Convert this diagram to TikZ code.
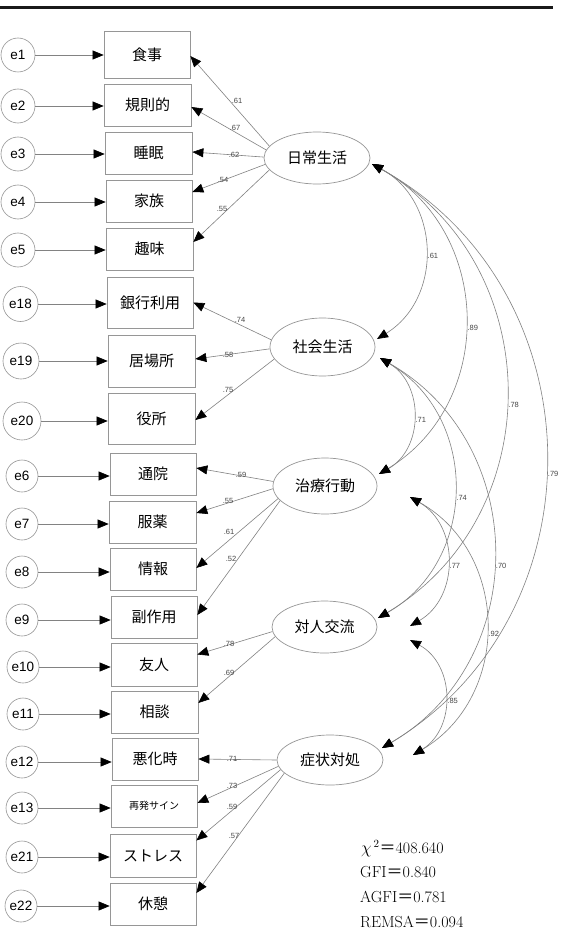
\documentclass[tikz,border=0pt]{standalone}
\usepackage{fontspec}
\newfontfamily\cjkfont{Noto Sans CJK JP}
\newfontfamily\labelfont{Liberation Sans}
\usetikzlibrary{arrows.meta,shapes.geometric}
\definecolor{linegray}{RGB}{130,130,130}
\definecolor{shapegray}{RGB}{150,150,150}
\definecolor{coefgray}{RGB}{70,70,70}
\definecolor{rulecolor}{RGB}{25,25,25}
\newcommand{\zeq}{{\cjkfont ＝}}

\begin{document}
\begin{tikzpicture}[x=1pt, y=-1pt,
  >={Triangle[length=11pt,width=9pt,color=black]},
  errnode/.style={circle, draw=shapegray, line width=0.6pt, minimum size=#1, inner sep=0pt,
    font=\labelfont\fontsize{13.5pt}{14pt}\selectfont},
  errnode/.default=32pt,
  obsnode/.style={rectangle, draw=shapegray, line width=0.7pt, minimum width=86pt,
    minimum height=42pt, inner sep=0pt, font=\cjkfont\fontsize{15pt}{16pt}\selectfont},
  latnode/.style={ellipse, draw=shapegray, line width=0.7pt, minimum width=106pt,
    minimum height=52pt, inner sep=0pt, font=\cjkfont\fontsize{15pt}{16pt}\selectfont},
  loadline/.style={draw=linegray, line width=0.6pt, ->},
  covline/.style={draw=linegray, line width=0.6pt, <->},
  coef/.style={font=\labelfont\fontsize{7.5pt}{8pt}\selectfont, text=coefgray, inner sep=0.5pt},
  covlab/.style={coef, pos=0.53, anchor=west, xshift=2pt},
  stat/.style={anchor=base west, inner sep=0pt, font=\fontsize{16pt}{18pt}\selectfont}
]
\fill[white] (0,0) rectangle (564,952);
\useasboundingbox (0,0) rectangle (564,952);

% heading rule
\draw[rulecolor, line width=2.5pt] (0,7.5) -- (553,7.5);

% observed variables
\node[obsnode, minimum height=47pt] (shokuji) at (147,54.5) {食事};
\node[obsnode, minimum width=87pt] (kisoku) at (147.5,105) {規則的};
\node[obsnode, minimum width=87pt] (suimin) at (148.5,153) {睡眠};
\node[obsnode] (kazoku) at (149,201) {家族};
\node[obsnode, minimum width=87pt] (shumi) at (149.5,249) {趣味};
\node[obsnode, minimum height=51pt] (ginko) at (150,302.5) {銀行利用};
\node[obsnode, minimum width=87pt, minimum height=52pt] (ibasho) at (151.5,361) {居場所};
\node[obsnode, minimum width=87pt, minimum height=51pt] (yakusho) at (151.5,418.5) {役所};
\node[obsnode] (tsuin) at (153,474) {通院};
\node[obsnode, minimum width=87pt] (fukuyaku) at (152.5,522) {服薬};
\node[obsnode] (joho) at (153,569) {情報};
\node[obsnode] (fukusayo) at (154,617) {副作用};
\node[obsnode, minimum height=43pt] (yujin) at (154,664.5) {友人};
\node[obsnode, minimum width=87pt] (sodan) at (154.5,712) {相談};
\node[obsnode] (akka) at (155,759) {悪化時};
\node[obsnode, font=\cjkfont\fontsize{10pt}{11pt}\selectfont] (saihatsu) at (154,806) {再発サイン};
\node[obsnode, minimum height=43pt] (stress) at (153,855.5) {ストレス};
\node[obsnode] (kyukei) at (153,904) {休憩};

% error terms
\node[errnode=34pt] (e1) at (18,55) {e1};
\node[errnode=34pt] (e2) at (18,106) {e2};
\node[errnode=34pt] (e3) at (18,154) {e3};
\node[errnode=34pt] (e4) at (18,202) {e4};
\node[errnode=34pt] (e5) at (18,250) {e5};
\node[errnode=35pt] (e18) at (20.5,304) {e18};
\node[errnode=36pt] (e19) at (21,361) {e19};
\node[errnode=38pt] (e20) at (22,421) {e20};
\node[errnode] (e6) at (22,476) {e6};
\node[errnode] (e7) at (22,524) {e7};
\node[errnode] (e8) at (22,572) {e8};
\node[errnode] (e9) at (22,620) {e9};
\node[errnode] (e10) at (23,667) {e10};
\node[errnode] (e11) at (23,714) {e11};
\node[errnode] (e12) at (22,762) {e12};
\node[errnode] (e13) at (22,808) {e13};
\node[errnode] (e21) at (22,857) {e21};
\node[errnode] (e22) at (21,906) {e22};

\foreach \e/\o in {e1/shokuji, e2/kisoku, e3/suimin, e4/kazoku, e5/shumi,
  e18/ginko, e19/ibasho, e20/yakusho, e6/tsuin, e7/fukuyaku, e8/joho, e9/fukusayo,
  e10/yujin, e11/sodan, e12/akka, e13/saihatsu, e21/stress, e22/kyukei}
  \draw[loadline] (\e) -- (\e -| \o.west);

% latent factors
\node[latnode] (nichijo) at (317,158) {日常生活};
\node[latnode, minimum width=105pt, minimum height=58pt] (shakai) at (322.5,347) {社会生活};
\node[latnode, minimum width=104pt, minimum height=56pt] (chiryo) at (325,486) {治療行動};
\node[latnode, minimum width=105pt] (taijin) at (324.5,627) {対人交流};
\node[latnode, minimum height=50pt] (shojo) at (330,760) {症状対処};

% factor loadings
\draw[loadline] (nichijo.166) -- ([yshift=-1.5pt]shokuji.east);
\draw[loadline] (nichijo.171) -- ([yshift=-2pt]kisoku.east);
\draw[loadline] (nichijo.179) -- ([yshift=1pt]suimin.east);
\draw[loadline] (nichijo.187) -- ([yshift=9pt]kazoku.east);
\draw[loadline] (nichijo.194) -- ([yshift=7pt]shumi.east);
\draw[loadline] (shakai.172) -- (ginko.east);
\draw[loadline] (shakai.182) -- ([yshift=2pt]ibasho.east);
\draw[loadline] (shakai.194) -- ([yshift=-1.5pt]yakusho.east);
\draw[loadline] (chiryo.175) -- ([yshift=6pt]tsuin.east);
\draw[loadline] (chiryo.183) -- ([yshift=9pt]fukuyaku.east);
\draw[loadline] (chiryo.195) -- ([yshift=1pt]joho.east);
\draw[loadline] (chiryo.198) -- ([yshift=2pt]fukusayo.east);
\draw[loadline] (taijin.185) -- ([yshift=10pt]yujin.east);
\draw[loadline] (taijin.191) -- ([yshift=9pt]sodan.east);
\draw[loadline] (shojo.180) -- (akka.east);
\draw[loadline] (shojo.187) -- ([yshift=3pt]saihatsu.east);
\draw[loadline] (shojo.191) -- ([yshift=15pt]stress.east);
\draw[loadline] (shojo.196) -- ([yshift=11pt]kyukei.east);

% loading estimates
\node[coef] (c-shokuji) at (237,101) {.61};
\node[coef] (c-kisoku) at (235,128) {.67};
\node[coef] (c-suimin) at (234,155) {.62};
\node[coef] (c-kazoku) at (223,180) {.54};
\node[coef] (c-shumi) at (222,209) {.55};
\node[coef] (c-ginko) at (240,320) {.74};
\node[coef] (c-ibasho) at (228,355) {.58};
\node[coef] (c-yakusho) at (228,390) {.75};
\node[coef] (c-tsuin) at (241,475) {.59};
\node[coef] (c-fukuyaku) at (228,501) {.55};
\node[coef] (c-joho) at (229,532) {.61};
\node[coef] (c-fukusayo) at (231,559) {.52};
\node[coef] (c-yujin) at (229,644) {.78};
\node[coef] (c-sodan) at (229,673) {.69};
\node[coef] (c-akka) at (232,759) {.71};
\node[coef] (c-saihatsu) at (232,786) {.73};
\node[coef] (c-stress) at (232,807) {.59};
\node[coef] (c-kyukei) at (234,836) {.57};

% covariance end points
\coordinate (nichijo-r) at (372,164);
\coordinate (shakai-rt) at (377,339);
\coordinate (shakai-rb) at (380,358);
\coordinate (chiryo-rt) at (379,474);
\coordinate (chiryo-f) at (410,497);
\coordinate (taijin-r) at (378,618);
\coordinate (taijin-ft) at (410,626);
\coordinate (taijin-fb) at (410,640);
\coordinate (shojo-r) at (382,748);
\coordinate (shojo-f) at (413,755);

% factor correlations
\draw[covline] (nichijo-r) to[bend left=60, looseness=1.134] node[covlab] {.61} (shakai-rt);
\draw[covline] (nichijo-r) to[bend left=60, looseness=1.134] node[covlab] {.89} (chiryo-rt);
\draw[covline] (nichijo-r) to[bend left=60, looseness=1.134] node[covlab] {.78} (taijin-r);
\draw[covline] (nichijo-r) to[bend left=60, looseness=1.134] node[covlab] {.79} (shojo-r);
\draw[covline] (shakai-rb) to[bend left=60, looseness=1.134] node[covlab] {.71} (chiryo-rt);
\draw[covline] (shakai-rb) to[bend left=60, looseness=1.134] node[covlab] {.74} (taijin-r);
\draw[covline] (shakai-rb) to[bend left=60, looseness=1.134] node[covlab] {.70} (shojo-r);
\draw[covline] (chiryo-f) to[bend left=60, looseness=1.134] node[covlab] {.77} (taijin-ft);
\draw[covline] (chiryo-f) to[bend left=60, looseness=1.134] node[covlab] {.92} (shojo-f);
\draw[covline] (taijin-fb) to[bend left=60, looseness=1.134] node[covlab] {.85} (shojo-f);

% fit indices
\node[stat] (chisq) at (361,853.5) {$\chi^{\,2}$\zeq 408.640};
\node[stat] (gfi) at (360,877.5) {GFI\zeq 0.840};
\node[stat] (agfi) at (360,902.5) {AGFI\zeq 0.781};
\node[stat] (remsa) at (360,927.5) {REMSA\zeq 0.094};
\end{tikzpicture}
\end{document}
